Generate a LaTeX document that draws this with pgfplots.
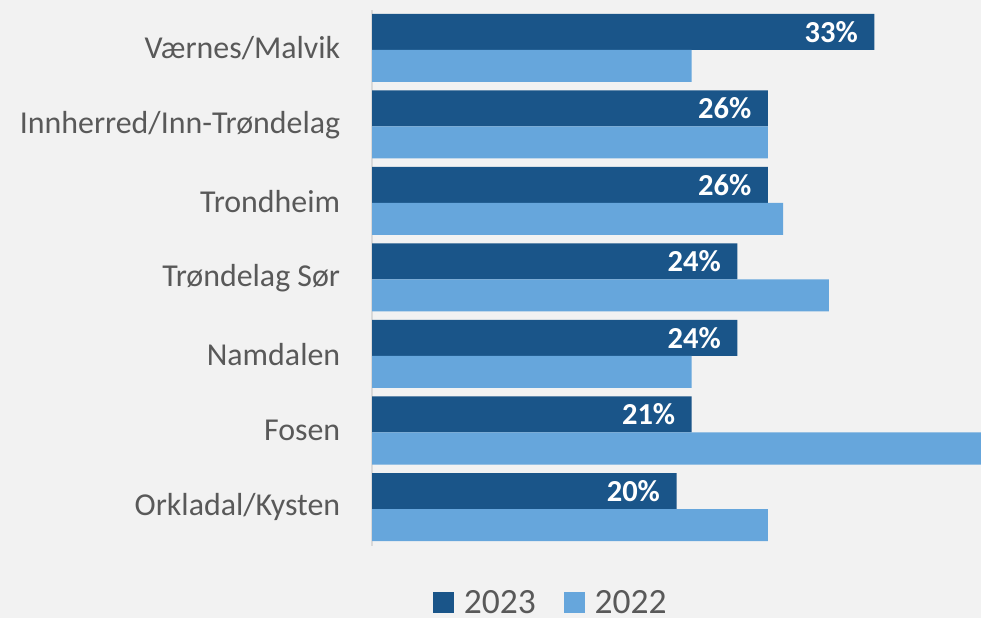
\documentclass[border=0pt]{standalone}
\usepackage{pgfplots}
\pgfplotsset{compat=1.18}
\usepackage{fontspec}
\setmainfont{Carlito}
\definecolor{bg}{HTML}{F2F2F2}
\definecolor{dark}{HTML}{1A5589}
\definecolor{light}{HTML}{66A6DC}
\definecolor{txt}{HTML}{595959}
\definecolor{axisgray}{HTML}{D9D9D9}
\begin{document}
\begin{tikzpicture}
\useasboundingbox (0,0) rectangle (981pt,618pt);
\fill[bg] (0,0) rectangle (981pt,618pt);
\clip (0,0) rectangle (981pt,618pt);
\begin{axis}[
  at={(372pt,72.5pt)}, anchor=south west,
  scale only axis, width=609pt, height=535.5pt,
  xmin=0, xmax=40, ymin=-0.5, ymax=6.5,
  axis x line=none,
  axis y line=left,
  y axis line style={-, draw=axisgray, line width=1.5pt},
  ytick={0,1,2,3,4,5,6},
  yticklabels={Orkladal/Kysten,Fosen,Namdalen,Trøndelag Sør,Trondheim,Innherred/Inn-Trøndelag,Værnes/Malvik},
  ytick style={draw=none},
  yticklabel style={font=\fontsize{31.9}{38}\selectfont, text=txt, xshift=-24pt},
  /pgf/number format/assume math mode=true,
  xbar, 
  legend style={at={(0.2935,-0.107)}, anchor=center, draw=none, fill=none, legend columns=2,
    font=\fontsize{35.5}{40}\selectfont, text=txt,
    /tikz/every odd column/.append style={column sep=8pt},
    /tikz/every even column/.append style={column sep=26pt}},
  legend image code/.code={\fill[#1] (0pt,-10.5pt) rectangle (21pt,10.5pt);},
]
\addplot[fill=dark, draw=none, bar width=36pt, bar shift=16.25pt,
  nodes near coords={\pgfmathprintnumber{\pgfplotspointmeta}\%},
  nodes near coords style={font=\bfseries\fontsize{30.5}{36}\selectfont, text=white, anchor=east, xshift=-13pt}]
  coordinates {(20,0) (21,1) (24,2) (24,3) (26,4) (26,5) (33,6)};
\addlegendentry{2023}
\addplot[fill=light, draw=none, bar width=32pt, bar shift=-17.75pt]
  coordinates {(26,0) (41,1) (21,2) (30,3) (27,4) (26,5) (21,6)};
\addlegendentry{2022}
\end{axis}
\end{tikzpicture}
\end{document}
